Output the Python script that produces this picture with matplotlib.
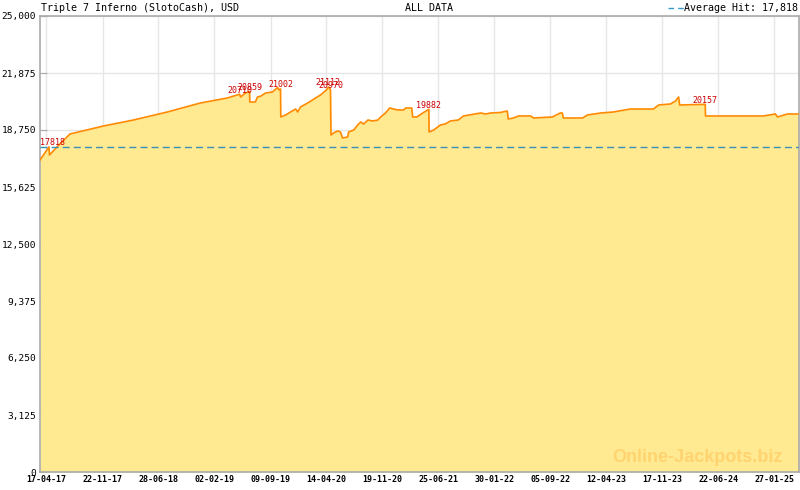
import pandas as pd
import numpy as np
import matplotlib.pyplot as plt
import matplotlib.dates as mdates
from matplotlib.lines import Line2D
from matplotlib.ticker import FixedLocator, FuncFormatter

# ---------------------------------------------------------
# DATA
# ---------------------------------------------------------

dates = [
    "2017-03-23", "2017-04-27", "2017-04-29", "2017-06-01", "2017-07-18",
    "2017-11-26", "2018-03-23", "2018-08-02", "2018-12-09", "2019-03-25",
    "2019-05-11", "2019-05-15", "2019-06-03", "2019-06-19", "2019-06-20",
    "2019-07-12", "2019-07-20", "2019-08-01", "2019-08-21", "2019-09-17",
    "2019-09-29", "2019-10-07", "2019-10-11", "2019-10-18", "2019-10-19",
    "2019-11-07", "2019-11-26", "2019-12-16", "2019-12-24", "2020-01-04",
    "2020-02-01", "2020-02-20", "2020-03-03", "2020-03-22", "2020-04-14",
    "2020-04-22", "2020-04-30", "2020-05-02", "2020-05-12", "2020-05-28",
    "2020-06-08", "2020-06-16", "2020-07-06", "2020-07-10", "2020-07-30",
    "2020-08-14", "2020-08-26", "2020-09-07", "2020-09-23", "2020-10-12",
    "2020-11-01", "2020-11-12", "2020-12-01", "2020-12-17", "2021-01-17",
    "2021-02-10", "2021-02-18", "2021-03-13", "2021-03-17", "2021-04-02",
    "2021-04-25", "2021-05-19", "2021-05-20", "2021-06-07", "2021-07-03",
    "2021-07-22", "2021-08-11", "2021-09-11", "2021-10-01", "2021-12-07",
    "2021-12-27", "2022-01-15", "2022-02-22", "2022-03-21", "2022-03-25",
    "2022-04-14", "2022-05-04", "2022-06-20", "2022-07-02", "2022-09-13",
    "2022-10-14", "2022-10-22", "2022-10-26", "2023-01-09", "2023-01-28",
    "2023-03-21", "2023-05-09", "2023-07-15", "2023-10-13", "2023-11-02",
    "2023-12-18", "2024-01-07", "2024-01-19", "2024-01-23", "2024-05-02",
    "2024-05-03", "2024-12-15", "2025-01-31", "2025-02-08", "2025-03-19",
    "2025-05-03",
]

values = [
    17105, 17818, 17380, 17873, 18531,
    18970, 19298, 19737, 20230, 20507,
    20710, 20560, 20780, 20859, 20286,
    20286, 20560, 20600, 20780, 20836,
    20990, 21080, 20950, 21002, 19463,
    19572, 19737, 19901, 19737, 20010,
    20230, 20397, 20507, 20670, 20943,
    21112, 20970, 18476, 18586, 18695,
    18641, 18311, 18366, 18641, 18750,
    19024, 19189, 19079, 19298, 19244,
    19298, 19463, 19682, 19956, 19847,
    19847, 19956, 19956, 19463, 19463,
    19682, 19882, 18640, 18750, 19024,
    19079, 19244, 19298, 19518, 19682,
    19628, 19682, 19710, 19792, 19353,
    19408, 19518, 19518, 19408, 19463,
    19682, 19682, 19408, 19408, 19572,
    19682, 19737, 19901, 19901, 20121,
    20176, 20340, 20560, 20121, 20157,
    19518, 19518, 19628, 19463, 19628,
    19628,
]

hit_dates = ["2017-04-27", "2019-05-11", "2019-06-19", "2019-10-18",
             "2020-04-22", "2020-04-30", "2021-05-19", "2024-05-02"]
hit_values = [17818, 20710, 20859, 21002, 21112, 20970, 19882, 20157]

average_hit = 17818

tick_dates = ["17-04-17", "22-11-17", "28-06-18", "02-02-19", "09-09-19",
              "14-04-20", "19-11-20", "25-06-21", "30-01-22", "05-09-22",
              "12-04-23", "17-11-23", "22-06-24", "27-01-25"]
y_ticks = [0, 3125, 6250, 9375, 12500, 15625, 18750, 21875, 25000]

# ---------------------------------------------------------
# STYLE
# ---------------------------------------------------------

LINE_COLOR = "#ff8a00"
FILL_COLOR = "#ffe991"
AVG_COLOR = "#3a8fb7"
LABEL_COLOR = "#cc0000"
FRAME_COLOR = "#aaaaaa"
GRID_COLOR = "#e6e6e6"
MONO = "DejaVu Sans Mono"

# ---------------------------------------------------------
# PLOT
# ---------------------------------------------------------

x = pd.to_datetime(dates)
hx = pd.to_datetime(hit_dates)
majors = pd.to_datetime(tick_dates, format="%d-%m-%y")

fig = plt.figure(figsize=(8, 4.9), dpi=100)
ax = fig.add_axes([40 / 800, 18 / 490, 759 / 800, 456 / 490])

ax.fill_between(x, values, 0, color=FILL_COLOR, lw=0, zorder=1)
ax.plot(x, values, color=LINE_COLOR, lw=1.2, zorder=3)
ax.axhline(average_hit, color=AVG_COLOR, lw=1.0, ls=(0, (5, 3)), zorder=4)

for d, v in zip(hx, hit_values):
    dd = d
    if d == hx[0]:
        dd = d + pd.Timedelta(days=15)
    ax.annotate(str(v), (dd, v), xytext=(0, 3), textcoords="offset points",
                ha="center", va="center", color=LABEL_COLOR,
                fontsize=6, family=MONO, zorder=5)

ax.set_xlim(x[0], x[-1])
ax.set_ylim(0, 25000)

# ticks
step = majors[1] - majors[0]
minors = []
m = majors[0]
while m < x[-1]:
    for k in range(1, 7):
        minors.append(m + step * k / 7)
    m = m + step
minors = [mm for mm in minors if mm < x[-1]]

ax.xaxis.set_major_locator(FixedLocator(mdates.date2num(majors)))
ax.xaxis.set_minor_locator(FixedLocator(mdates.date2num(minors)))
ax.xaxis.set_major_formatter(mdates.DateFormatter("%d-%m-%y"))
ax.set_yticks(y_ticks)
ax.yaxis.set_major_formatter(FuncFormatter(lambda v, p: f"{int(v):,}"))

ax.tick_params(axis="x", which="major", direction="in", length=6,
               color=FRAME_COLOR, labelsize=6, pad=2)
ax.tick_params(axis="x", which="minor", direction="in", length=3,
               color=FRAME_COLOR)
ax.tick_params(axis="y", direction="in", length=5, color=FRAME_COLOR,
               labelsize=6.8, pad=3)
for lab in ax.get_xticklabels():
    lab.set_family(MONO)
    lab.set_fontweight("bold")
for lab in ax.get_yticklabels():
    lab.set_family(MONO)

ax.grid(True, which="major", color=GRID_COLOR, lw=1.0, zorder=0)
ax.set_axisbelow(True)
for s in ax.spines.values():
    s.set_color(FRAME_COLOR)
    s.set_linewidth(1.2)

# watermark
ax.text(0.866, 0.032, "Online-Jackpots.biz", transform=ax.transAxes,
        ha="center", va="center", fontsize=13, fontweight="bold",
        family="Liberation Sans", color="#ffcc66", alpha=0.75, zorder=2)

# header
fig.text(41 / 800, 1 - 8 / 490, "Triple 7 Inferno (SlotoCash), USD",
         ha="left", va="center", fontsize=7.2, family=MONO)
fig.text(429 / 800, 1 - 8 / 490, "ALL DATA",
         ha="center", va="center", fontsize=7.2, family=MONO)
fig.text(798 / 800, 1 - 8 / 490, f"Average Hit: {average_hit:,}",
         ha="right", va="center", fontsize=7.2, family=MONO)
fig.add_artist(Line2D([668 / 800, 684 / 800], [1 - 8 / 490, 1 - 8 / 490],
                      transform=fig.transFigure, color="#3399cc", lw=1.0,
                      ls=(0, (4, 3))))

fig.savefig("out.png", dpi=100)
